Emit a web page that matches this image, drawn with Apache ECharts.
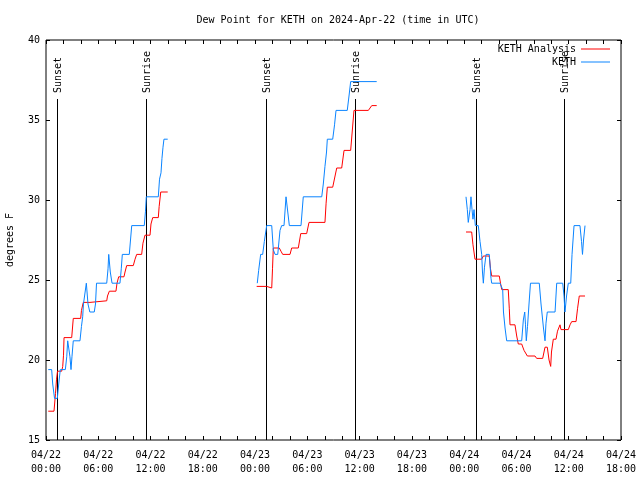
<!DOCTYPE html>
<html>
<head>
<meta charset="utf-8">
<script src="https://cdn.jsdelivr.net/npm/echarts@6/dist/echarts.min.js"></script>
<style>
html,body{margin:0;padding:0;background:#fff;}
#chart{width:640px;height:480px;}
</style>
</head>
<body>
<div id="chart"></div>
<script>
// ---- Data (hours since 2024-04-22 00:00 UTC, values in degrees F) ----
const obsHours1 = [0.26,0.65,0.77,0.98,1.30,1.46,1.64,2.22,2.38,2.49,2.64,2.75,2.87,2.98,3.13,3.90,4.07,4.21,4.30,4.51,4.63,4.71,4.82,4.97,5.03,5.54,5.68,5.80,6.97,7.12,7.20,7.27,7.38,7.58,8.49,8.64,8.76,9.56,9.70,9.84,11.28,11.42,11.51,12.89,13.03,13.20,13.31,13.43,13.54,13.97];
const obsValues1 = [19.4,19.4,18.5,17.6,17.6,18.5,19.4,19.4,20.2,21.2,21.2,20.2,19.4,20.2,21.2,21.2,22.1,22.7,23.5,23.5,24.8,24.8,23.5,23.5,23.0,23.0,23.5,24.8,24.8,25.7,26.6,26.6,25.5,24.8,24.8,25.7,26.6,26.6,27.5,28.4,28.4,29.3,30.2,30.2,31.3,31.7,32.6,33.3,33.8,33.8];
const obsHours2 = [24.25,24.41,24.64,24.87,25.06,25.33,25.91,26.09,26.29,26.60,26.86,27.05,27.32,27.55,27.63,27.93,29.27,29.53,31.65,31.83,32.02,32.20,32.29,32.91,33.12,33.29,34.58,34.78,34.97,37.96];
const obsValues2 = [24.8,25.6,26.6,26.6,27.4,28.4,28.4,26.9,26.6,26.6,28.1,28.4,28.4,30.2,30.2,28.4,28.4,30.2,30.2,31.0,32.1,33.0,33.8,33.8,34.7,35.6,35.6,36.5,37.4,37.4];
const obsHours3 = [48.21,48.36,48.47,48.55,48.67,48.78,48.90,49.01,49.13,49.28,49.62,49.82,50.01,50.10,50.20,50.33,50.51,50.88,51.08,51.16,52.11,52.42,52.51,52.69,52.88,54.60,54.79,54.95,55.04,55.13,55.27,55.44,55.61,56.62,56.82,57.10,57.28,57.39,57.54,58.43,58.62,59.31,59.46,59.57,59.75,59.95,60.23,60.38,60.61,61.29,61.47,61.58,61.70,61.87];
const obsValues3 = [30.2,29.4,28.6,28.6,29.4,30.2,29.4,28.8,29.4,28.4,28.4,27.4,26.6,25.5,24.8,25.8,26.6,26.6,25.1,24.8,24.8,24.4,23.0,22.0,21.2,21.2,22.5,23.0,22.2,21.2,22.1,23.5,24.8,24.8,23.5,22.0,21.2,22.3,23.0,23.0,24.8,24.8,24.0,23.0,24.0,24.8,24.8,26.6,28.4,28.4,27.4,26.6,27.5,28.4];

const anaHours1 = [0.26,0.92,1.09,1.21,1.32,1.80,1.92,2.01,2.07,2.95,3.04,3.13,3.98,4.07,4.28,5.05,5.11,6.97,7.06,7.27,8.03,8.15,8.34,8.95,9.07,9.26,10.02,10.22,10.41,10.98,11.13,11.36,11.94,12.05,12.25,12.89,12.99,13.17,13.97];
const anaValues1 = [16.8,16.8,17.9,18.8,19.3,19.3,19.6,20.3,21.4,21.4,22.0,22.6,22.6,23.1,23.6,23.6,23.7,23.7,24.0,24.3,24.3,24.8,25.2,25.2,25.5,25.9,25.9,26.3,26.6,26.6,27.3,27.8,27.8,28.5,28.9,28.9,29.6,30.5,30.5];
const anaHours2 = [24.18,25.33,25.43,25.91,26.00,26.09,26.78,26.97,27.17,28.01,28.20,28.96,29.24,29.92,30.19,32.02,32.15,32.29,32.91,33.37,33.94,34.21,34.97,35.35,37.00,37.39,37.96];
const anaValues2 = [24.6,24.6,24.5,24.5,25.7,27.0,27.0,26.8,26.6,26.6,27.0,27.0,27.9,27.9,28.6,28.6,29.8,30.8,30.8,32.0,32.0,33.1,33.1,35.6,35.6,35.9,35.9];
const anaHours3 = [48.21,48.86,49.01,49.24,50.01,50.20,50.88,51.02,51.16,52.03,52.17,52.31,53.06,53.18,53.26,53.83,54.03,54.21,54.60,54.87,55.25,56.13,56.32,57.01,57.28,57.54,57.74,57.93,58.02,58.23,58.54,58.71,59.00,59.11,59.95,60.15,60.34,60.84,61.01,61.21,61.87];
const anaValues3 = [28.0,28.0,27.2,26.3,26.3,26.5,26.5,25.7,25.25,25.25,24.8,24.4,24.4,23.2,22.2,22.2,21.5,21.0,21.0,20.6,20.25,20.25,20.1,20.1,20.8,20.8,20.0,19.6,20.5,21.3,21.3,21.8,22.2,21.9,21.9,22.2,22.4,22.4,23.2,24.0,24.0];

const sunEventHours = [1.30, 11.51, 25.25, 35.50, 49.39, 59.49];
const sunEventLabels = ['Sunset', 'Sunrise', 'Sunset', 'Sunrise', 'Sunset', 'Sunrise'];

const seriesNames = ['KETH Analysis', 'KETH'];
const titleText = 'Dew Point for KETH on 2024-Apr-22 (time in UTC)';
const yAxisName = 'degrees F';
const yMin = 15, yMax = 40, yStep = 5;
const xSpanHours = 66, xTickHours = 2, xLabelHours = 6;

// ---- Build ----
const T0 = Date.UTC(2024, 3, 22, 0, 0, 0);
const HOUR = 3600000;
const toMs = h => T0 + h * HOUR;
const pad = n => (n < 10 ? '0' : '') + n;

function buildData(segs) {
  const out = [];
  segs.forEach((s, i) => {
    if (i > 0) out.push([toMs(s[0][0] - 0.5), '-']);
    s[0].forEach((h, j) => out.push([toMs(h), s[1][j]]));
  });
  return out;
}
const anaData = buildData([[anaHours1, anaValues1], [anaHours2, anaValues2], [anaHours3, anaValues3]]);
const obsData = buildData([[obsHours1, obsValues1], [obsHours2, obsValues2], [obsHours3, obsValues3]]);

const FONT = 'DejaVu Sans Mono';
const lineTopOffset = 59; // px below plot top where sun lines begin

const chart = echarts.init(document.getElementById('chart'), null, {renderer: 'canvas'});

const xCommon = {
  type: 'value',
  min: T0,
  max: T0 + xSpanHours * HOUR,
  interval: xTickHours * HOUR,
  splitLine: {show: false},
  axisLine: {show: false},
  axisTick: {show: true, inside: true, length: 4, lineStyle: {color: '#000', width: 1}}
};
const yCommon = {
  type: 'value',
  min: yMin, max: yMax, interval: yStep,
  splitLine: {show: false},
  axisLine: {show: false},
  axisTick: {show: true, inside: true, length: 4, lineStyle: {color: '#000', width: 1}}
};

const option = {
  animation: false,
  backgroundColor: '#fff',
  title: {
    text: titleText,
    left: 333, textAlign: 'center',
    top: 10,
    textStyle: {fontFamily: FONT, fontSize: 10, fontWeight: 'normal', color: '#000'}
  },
  legend: {
    data: seriesNames,
    orient: 'vertical',
    align: 'right',
    right: 30,
    top: 42.5,
    padding: 0,
    itemWidth: 29,
    itemHeight: 1,
    itemGap: 0,
    icon: 'rect',
    itemStyle: {borderWidth: 0},
    textStyle: {fontFamily: FONT, fontSize: 10, color: '#000', lineHeight: 13, padding: 0}
  },
  grid: {left: 46, right: 19, top: 40, bottom: 40, show: true, borderColor: '#000', borderWidth: 1,
         backgroundColor: 'transparent', containLabel: false, outerBoundsMode: 'none'},
  xAxis: [
    Object.assign({}, xCommon, {
      position: 'bottom',
      axisLabel: {
        interval: 0, showMinLabel: true, showMaxLabel: true, hideOverlap: false,
        margin: 8, fontFamily: FONT, fontSize: 10, color: '#000', lineHeight: 14,
        formatter: v => {
          const rel = Math.round((v - T0) / HOUR);
          if (rel % xLabelHours !== 0) return '';
          const d = new Date(v);
          return pad(d.getUTCMonth() + 1) + '/' + pad(d.getUTCDate()) + '\n' + pad(d.getUTCHours()) + ':' + pad(d.getUTCMinutes());
        }
      }
    }),
    Object.assign({}, xCommon, {position: 'top', axisLabel: {show: false}})
  ],
  yAxis: [
    Object.assign({}, yCommon, {
      position: 'left',
      name: yAxisName, nameLocation: 'middle', nameRotate: 90, nameGap: 31,
      nameTextStyle: {fontFamily: FONT, fontSize: 10, color: '#000'},
      axisLabel: {margin: 6, fontFamily: FONT, fontSize: 10, color: '#000'}
    }),
    Object.assign({}, yCommon, {position: 'right', axisLabel: {show: false}})
  ],
  series: [
    {
      type: 'custom',
      name: 'sun',
      xAxisIndex: 0, yAxisIndex: 0,
      silent: true,
      z: 1,
      data: sunEventHours.map(h => [toMs(h), yMin]),
      renderItem: (params, api) => {
        const p = api.coord([api.value(0), yMin]);
        const x = Math.round(p[0]) + 0.5;
        const yBottom = p[1];
        const yTop = params.coordSys.y + lineTopOffset;
        return {
          type: 'group',
          children: [
            {type: 'line', shape: {x1: x, y1: yTop, x2: x, y2: yBottom}, style: {stroke: '#000', lineWidth: 1}},
            {type: 'text', x: x + 1, y: yTop - 6, rotation: Math.PI / 2,
              style: {text: sunEventLabels[params.dataIndex], align: 'left', verticalAlign: 'middle', font: '10px ' + FONT, fill: '#000'}}
          ]
        };
      }
    },
    {
      type: 'line', name: seriesNames[0], data: anaData,
      xAxisIndex: 0, yAxisIndex: 0,
      symbol: 'none', showSymbol: false, connectNulls: false,
      color: '#ff0000',
      lineStyle: {color: '#ff0000', width: 1},
      z: 3
    },
    {
      type: 'line', name: seriesNames[1], data: obsData,
      xAxisIndex: 0, yAxisIndex: 0,
      symbol: 'none', showSymbol: false, connectNulls: false,
      color: '#0a84ff',
      lineStyle: {color: '#0a84ff', width: 1},
      z: 4
    }
  ]
};
chart.setOption(option);
</script>
</body>
</html>
